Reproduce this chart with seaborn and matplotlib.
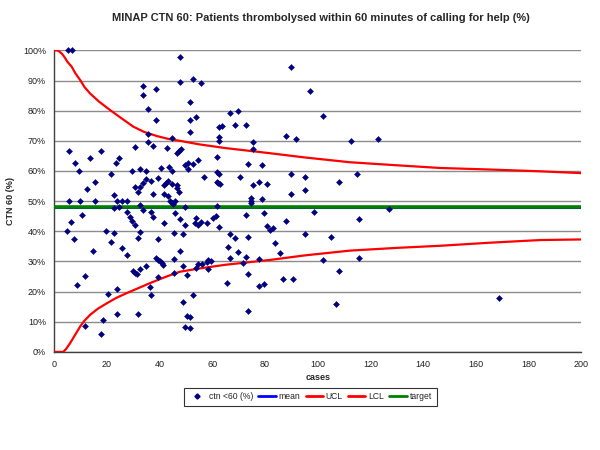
import matplotlib
matplotlib.use('Agg')
import matplotlib.pyplot as plt
from matplotlib.ticker import PercentFormatter, MultipleLocator
from matplotlib.lines import Line2D
import seaborn as sns

# Patients per hospital (cases) and % thrombolysed within 60 min
cases = [
    5.3, 6.6, 47.7, 33.6, 33.6, 38.5, 47.6, 52.7, 55.6, 35.7, 38.5, 51.5, 51.5, 53.7, 51.5,
    35.7, 35.7, 37.6, 44.6, 42.7, 46.5, 47.5, 48.1, 30.6, 5.6, 17.6, 13.6, 24.7, 23.4, 7.7,
    9.5, 21.5, 29.4, 32.5, 34.7, 40.5, 43.7, 44.6, 49.6, 50.9, 50.6, 52.8, 54.7, 56.7,
    89.8, 96.9, 101.9, 66.7, 69.9, 68.6, 72.8, 62.7, 63.6, 62.7, 62.7, 75.6, 75.6, 87.9, 91.8,
    61.7, 73.7, 78.8, 61.7, 62.7, 61.7, 62.3, 62.9, 70.5, 75.6, 77.7, 80.7, 89.8, 89.8, 95.0,
    95.0, 107.9, 74.7, 74.7, 74.7, 78.8, 61.7, 98.7, 79.8, 72.7, 60.4, 61.4, 53.4, 54.7, 55.7,
    62.7, 80.7, 81.9, 82.9, 87.9, 66.7, 68.6, 73.7, 95.0, 105.0, 65.9, 69.9, 83.8, 85.7, 66.7,
    72.8, 77.7, 71.8, 53.8, 54.7, 56.2, 57.9, 58.5, 59.4, 58.5, 101.9, 73.7, 65.7, 77.7, 79.6,
    86.7, 90.8, 107.9, 73.7, 106.9,
    112.7, 122.8, 114.8, 115.8, 126.9, 115.7, 168.9,
    12.5, 15.6, 5.6, 9.8, 15.6, 22.7, 23.7, 24.7, 22.7, 25.6, 27.5, 27.5, 28.7, 29.6, 30.6,
    6.2, 4.7, 7.5, 10.4, 14.6, 19.6, 22.7, 21.5, 25.6, 27.5, 30.6, 31.7, 32.5, 33.6, 34.7,
    36.7, 39.5, 37.6, 32.5, 33.8, 36.7, 37.6, 31.7, 32.5, 39.5, 29.8, 30.6, 31.5, 32.5, 34.7,
    39.5, 38.5, 39.5, 40.1, 40.7, 41.4, 36.3, 36.6, 41.8, 41.8, 42.4, 43.3, 44.6, 41.8, 43.3,
    43.9, 44.6, 45.8, 45.2, 46.7, 46.7, 45.8, 45.5, 47.4, 45.6, 45.6, 47.7, 47.7, 48.8, 49.6,
    49.6, 48.8, 48.8, 49.6, 50.5, 51.5, 51.5, 50.5, 52.8, 53.8, 58.1, 8.5, 11.7, 11.7, 18.6,
    17.6, 23.7, 23.7, 20.3, 31.7,
]
ctn60 = [
    100.0, 100.0, 97.7, 88.2, 85.2, 87.1, 89.4, 90.5, 89.3, 80.4, 76.9, 82.8, 76.9, 77.8, 73.0,
    72.3, 69.5, 68.4, 71.1, 67.5, 66.1, 66.6, 67.2, 67.8, 66.7, 66.7, 64.4, 64.2, 62.5, 62.5,
    60.0, 59.0, 60.0, 60.5, 60.0, 61.1, 61.4, 60.0, 62.0, 62.5, 60.6, 62.2, 63.8, 58.0,
    94.4, 86.6, 78.3, 79.1, 80.0, 75.2, 75.2, 74.5, 74.9, 71.4, 69.9, 69.7, 67.2, 71.6, 70.6,
    64.5, 62.2, 62.0, 59.8, 58.9, 56.4, 55.9, 55.6, 57.9, 55.3, 56.4, 55.7, 59.0, 52.4, 57.9,
    53.7, 56.4, 50.9, 50.0, 49.3, 50.6, 48.5, 46.5, 46.2, 45.3, 44.3, 45.1, 42.6, 42.1, 43.0,
    41.3, 41.9, 40.4, 41.0, 43.4, 39.0, 37.7, 38.0, 39.1, 38.2, 34.9, 33.0, 36.0, 32.7, 31.3,
    31.6, 30.8, 29.4, 27.9, 29.0, 29.1, 29.7, 30.6, 30.3, 27.4, 30.5, 25.7, 22.8, 21.9, 22.5,
    24.3, 24.3, 26.9, 13.7, 15.9,
    69.9, 70.6, 59.0, 44.0, 47.3, 31.1, 17.8,
    53.9, 56.2, 50.0, 50.0, 50.0, 52.0, 50.0, 48.1, 47.8, 50.0, 50.0, 46.5, 44.8, 43.4, 42.1,
    43.0, 40.1, 37.5, 45.4, 33.6, 40.1, 39.3, 36.4, 34.6, 32.2, 54.8, 53.1, 54.8, 55.9, 57.2,
    56.8, 57.6, 52.4, 48.7, 47.1, 46.3, 44.8, 37.7, 39.7, 37.5, 26.8, 26.3, 25.8, 27.5, 28.6,
    25.0, 31.1, 30.6, 30.1, 29.5, 28.9, 21.6, 18.9, 42.9, 55.4, 56.1, 56.8, 55.7, 52.4, 51.7,
    50.0, 49.3, 50.0, 49.0, 54.3, 55.4, 46.0, 39.3, 53.1, 30.7, 26.3, 33.5, 44.0, 39.0, 48.2,
    42.1, 28.6, 16.5, 8.4, 12.0, 11.7, 7.8, 25.5, 18.9, 44.3, 42.6, 22.2, 25.2, 8.6, 10.6,
    5.9, 20.9, 12.6, 19.1, 12.6,
]

# Control limits
ucl_cases = [0, 1, 1.5, 2, 3, 4, 5, 6.6, 8, 9.8, 11.5, 13.6, 17, 21.2, 25, 30, 34, 38.9, 43,
             47.7, 55.3, 65, 81.9, 95, 112.3, 130, 146.5, 165, 184.5, 200]
ucl = [100.0, 100.0, 99.9, 99.6, 98.8, 97.6, 96.2, 94.6, 92.4, 90.2, 87.8, 85.7, 83.0, 80.2,
       77.8, 74.7, 73.0, 71.6, 70.7, 70.0, 68.8, 67.6, 65.9, 64.5, 62.9, 61.9, 61.0, 60.5,
       59.9, 59.3]
lcl_cases = [0, 2, 3.4, 4.5, 6, 8, 9.8, 11.5, 13.6, 16.5, 19.9, 23.5, 27.5, 31.5, 36.3, 42,
             47.7, 55.3, 65, 81.9, 95, 112.3, 130, 146.5, 165, 184.5, 200]
lcl = [0.0, 0.0, 0.0, 1.0, 2.9, 5.8, 8.4, 10.4, 12.3, 14.3, 16.1, 17.9, 19.5, 21.0, 22.8, 24.8,
       26.6, 27.7, 28.9, 30.5, 32.0, 33.6, 34.5, 35.2, 36.2, 37.1, 37.3]

mean_value = 48.0
target_value = 48.0

sns.set_style("white")
plt.rcParams['font.family'] = ['Liberation Sans', 'DejaVu Sans']

fig = plt.figure(figsize=(6, 4.5), dpi=100)
ax = fig.add_axes([0.0905, 0.218, 0.878, 0.670])

# Grid first so everything sits on top of it
ax.yaxis.grid(True, color='#8c8c8c', linewidth=1.0)
ax.set_axisbelow(True)

ax.axhline(mean_value, color='#0000ff', linewidth=2.2, zorder=2)
ax.axhline(target_value, color='#008000', linewidth=2.6, zorder=3)

sns.lineplot(x=ucl_cases, y=ucl, ax=ax, color='#ff0000', linewidth=1.6,
             sort=False, estimator=None, zorder=4)
sns.lineplot(x=lcl_cases, y=lcl, ax=ax, color='#ff0000', linewidth=1.6,
             sort=False, estimator=None, zorder=4)

sns.scatterplot(x=cases, y=ctn60, ax=ax, marker='D', s=9, color='#000080',
                edgecolor='#000080', linewidth=0.4, zorder=5, clip_on=False)

ax.set_xlim(0, 200)
ax.set_ylim(0, 100)
ax.xaxis.set_major_locator(MultipleLocator(20))
ax.yaxis.set_major_locator(MultipleLocator(10))
ax.yaxis.set_major_formatter(PercentFormatter(decimals=0))

for side in ['top', 'right']:
    ax.spines[side].set_visible(False)
for side in ['left', 'bottom']:
    ax.spines[side].set_color('#404040')
    ax.spines[side].set_linewidth(1.0)

ax.tick_params(axis='both', direction='out', length=4, width=0.8, color='#404040',
               labelsize=6.5, labelcolor='#202020', pad=2)

ax.set_xlabel("cases", fontsize=6.5, fontweight='bold', labelpad=3)
ax.set_ylabel("CTN 60 (%)", fontsize=6.5, fontweight='bold', labelpad=6)
fig.text(0.535, 0.96, "MINAP CTN 60: Patients thrombolysed within 60 minutes of calling for help (%)",
         ha='center', va='center', fontsize=8, fontweight='bold')

handles = [
    Line2D([], [], marker='D', color='#000080', linestyle='none', markersize=2.6),
    Line2D([], [], color='#0000ff', linewidth=2),
    Line2D([], [], color='#ff0000', linewidth=2),
    Line2D([], [], color='#ff0000', linewidth=2),
    Line2D([], [], color='#008000', linewidth=2),
]
labels = ['ctn <60 (%)', 'mean', 'UCL', 'LCL', 'target']
leg = ax.legend(handles, labels, ncol=5, loc='center', bbox_to_anchor=(0.517, 0.118),
                bbox_transform=fig.transFigure, fontsize=6.2, frameon=True, fancybox=False,
                edgecolor='black', handlelength=2.0, handletextpad=0.35, columnspacing=0.6,
                borderpad=0.55, borderaxespad=0)
leg.get_frame().set_linewidth(0.8)

fig.savefig('out.png', dpi=100)
